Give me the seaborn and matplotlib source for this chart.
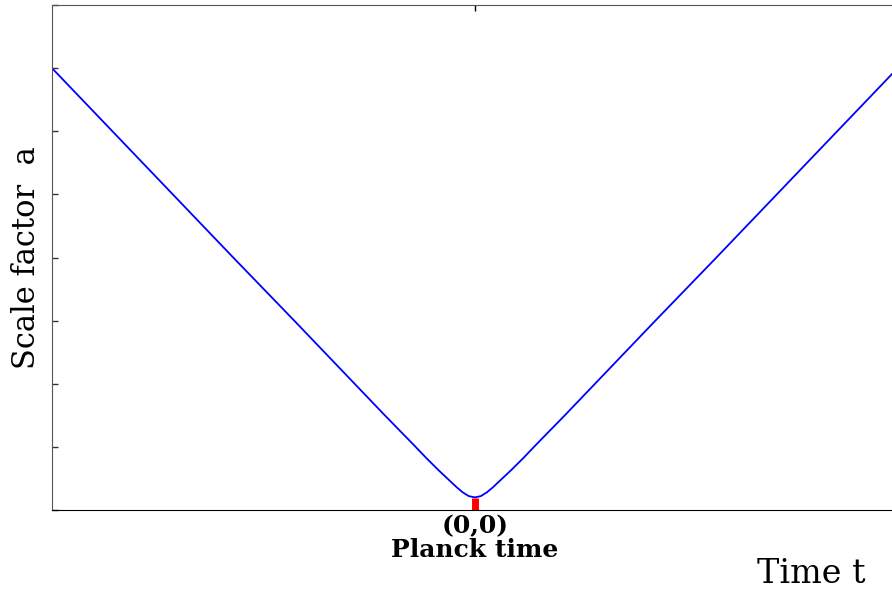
import numpy as np
import pandas as pd
import seaborn as sns
import matplotlib.pyplot as plt

# points (time t, scale factor a)
time_t = [-7.0, -6.0, -5.0, -4.0, -3.0, -2.0, -1.5, -1.0, -0.8, -0.6, -0.5, -0.4, -0.3,
          -0.25, -0.2, -0.15, -0.1, -0.05, 0.0,
          0.05, 0.1, 0.15, 0.2, 0.25, 0.3, 0.4, 0.5, 0.6, 0.8, 1.0, 1.5, 2.0, 3.0,
          4.0, 5.0, 6.0, 7.0]
scale_a = [7.0, 6.0, 5.0, 4.0, 3.01, 2.01, 1.51, 1.02, 0.82, 0.63, 0.54, 0.45, 0.36,
           0.32, 0.28, 0.25, 0.22, 0.21, 0.20,
           0.21, 0.22, 0.25, 0.28, 0.32, 0.36, 0.45, 0.54, 0.63, 0.82, 1.02, 1.51, 2.01, 3.01,
           4.0, 5.0, 6.0, 7.0]
y_ticks = [0, 1, 2, 3, 4, 5, 6, 7, 8]
x_ticks = [0]
x_tick_labels = ["(0,0)\nPlanck time"]

df = pd.DataFrame({"t": time_t, "a": scale_a})

fig = plt.figure(figsize=(8.92, 5.9), dpi=100)
ax = fig.add_axes([0.0583, 0.1356, 0.948, 0.8559])

sns.lineplot(data=df, x="t", y="a", color="blue", linewidth=1.3, ax=ax)

ax.set_xlim(-7, 7)
ax.set_ylim(0, 8)
ax.set_yticks(y_ticks)
ax.set_yticklabels([])
ax.set_xticks(x_ticks)
ax.set_xticklabels(x_tick_labels, fontfamily="DejaVu Serif", fontweight="bold",
                   fontsize=18, linespacing=1.0)
ax.tick_params(axis="y", direction="in", length=4, width=1, color="#333333")
ax.tick_params(axis="x", direction="in", top=True, length=4, width=1, pad=3)

# red marker at the Planck time on the bottom axis
tick = ax.xaxis.get_major_ticks()[0]
tick.tick1line.set_markeredgecolor("red")
tick.tick1line.set_markeredgewidth(5)
tick.tick1line.set_markersize(9)

for side in ["left", "top"]:
    ax.spines[side].set_color("#555555")
ax.spines["right"].set_visible(False)

ax.set_ylabel("Scale factor  a", fontfamily="DejaVu Serif", fontsize=22, labelpad=4)
ax.set_xlabel("Time t", fontfamily="DejaVu Serif", fontsize=24)
ax.xaxis.set_label_coords(0.898, -0.095)

fig.savefig("out.png", dpi=100)
